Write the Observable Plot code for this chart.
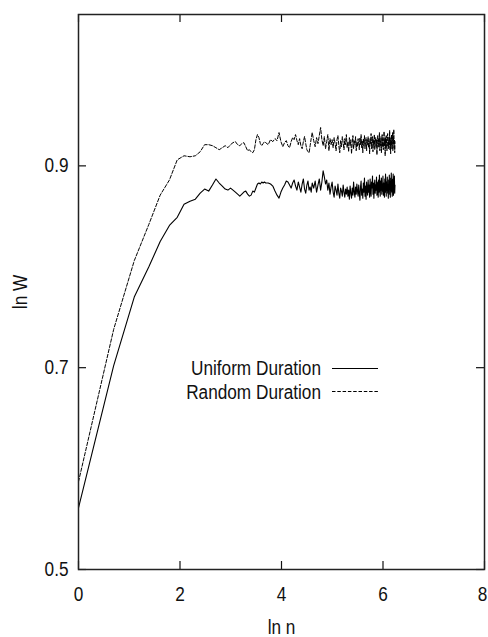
<!DOCTYPE html>
<html>
<head>
<meta charset="utf-8">
<script src="https://cdn.jsdelivr.net/npm/d3@7"></script>
<script src="https://cdn.jsdelivr.net/npm/@observablehq/plot@0.6"></script>
<style>
  html, body { margin: 0; padding: 0; background: #fff; }
  #chart { width: 488px; height: 637px; }
</style>
</head>
<body>
<div id="chart"></div>
<script>
// ---- data ----
const seriesNames = ["Uniform Duration", "Random Duration"];
const xTicks = [0, 2, 4, 6, 8];
const yTicks = [0.5, 0.7, 0.9];

// sample counts n (x is ln n)
const nValues = [
  ...d3.range(1, 41),
  ...d3.range(42, 101, 2),
  ...d3.range(103, 513, 3)
];

// ln W, Uniform Duration (solid)
const uniformW = [
  0.561, 0.702, 0.770, 0.800, 0.825, 0.841, 0.849, 0.862, 0.865, 0.867,
  0.873, 0.877, 0.875, 0.881, 0.887, 0.883, 0.880, 0.877, 0.876, 0.878,
  0.876, 0.874, 0.872, 0.870, 0.872, 0.874, 0.875, 0.872, 0.870, 0.871,
  0.875, 0.874, 0.878, 0.882, 0.883, 0.882, 0.884, 0.883, 0.884, 0.883,
  0.883, 0.882, 0.880, 0.875, 0.871, 0.868, 0.874, 0.878, 0.881, 0.885,
  0.884, 0.881, 0.878, 0.883, 0.886, 0.880, 0.876, 0.884, 0.879, 0.874,
  0.882, 0.887, 0.877, 0.873, 0.881, 0.885, 0.876, 0.879, 0.874, 0.883,
  0.878, 0.885, 0.874, 0.881, 0.887, 0.876, 0.884, 0.895,
  0.889, 0.882, 0.886, 0.876, 0.883, 0.872, 0.879, 0.884,
  0.874, 0.869, 0.880, 0.876, 0.871, 0.882, 0.873, 0.868, 0.878, 0.875, 0.870, 0.881, 0.874, 0.869, 0.877, 0.872, 0.879,
  0.870, 0.876, 0.867, 0.880, 0.873, 0.868, 0.878, 0.871, 0.884, 0.874, 0.869, 0.879, 0.872, 0.882, 0.875, 0.870, 0.881,
  0.873, 0.866, 0.879, 0.885, 0.871, 0.877, 0.868, 0.883, 0.874, 0.888, 0.870, 0.880, 0.867, 0.884, 0.876, 0.871, 0.886,
  0.874, 0.881, 0.869, 0.887, 0.875, 0.870, 0.884, 0.878, 0.890, 0.872, 0.883, 0.868, 0.879, 0.886, 0.873, 0.881, 0.876,
  0.889, 0.871, 0.884, 0.877, 0.869, 0.886, 0.874, 0.891, 0.879, 0.870, 0.885, 0.876, 0.888, 0.872, 0.882, 0.875,
  0.890, 0.871, 0.883, 0.877, 0.869, 0.887, 0.874, 0.892, 0.880, 0.870, 0.884, 0.876, 0.889, 0.873, 0.881, 0.868, 0.886,
  0.877, 0.891, 0.872, 0.884, 0.869, 0.888, 0.879, 0.893, 0.874, 0.882, 0.870, 0.887, 0.876, 0.892, 0.871, 0.885, 0.878, 0.890, 0.873, 0.881
];

// ln W, Random Duration (dashed)
const randomW = [
  0.587, 0.738, 0.806, 0.842, 0.871, 0.886, 0.906, 0.910, 0.909, 0.910,
  0.914, 0.921, 0.921, 0.920, 0.918, 0.916, 0.918, 0.920, 0.918, 0.921,
  0.923, 0.924, 0.921, 0.920, 0.922, 0.923, 0.919, 0.915, 0.916, 0.914,
  0.913, 0.916, 0.926, 0.931, 0.928, 0.922, 0.920, 0.922, 0.924, 0.923,
  0.921, 0.926, 0.924, 0.927, 0.925, 0.933, 0.924, 0.919, 0.923, 0.925,
  0.920, 0.918, 0.924, 0.928, 0.926, 0.931, 0.925, 0.921, 0.927, 0.920,
  0.917, 0.924, 0.929, 0.922, 0.916, 0.914, 0.913, 0.920, 0.927, 0.933,
  0.925, 0.919, 0.928, 0.922, 0.930, 0.938, 0.926, 0.920,
  0.929, 0.917, 0.924, 0.931, 0.915, 0.927, 0.921, 0.926,
  0.918, 0.928, 0.922, 0.915, 0.926, 0.930, 0.920, 0.913, 0.925, 0.919, 0.929, 0.923, 0.916, 0.927, 0.921, 0.931, 0.918,
  0.924, 0.914, 0.928, 0.920, 0.926, 0.912, 0.923, 0.930, 0.917, 0.925, 0.921, 0.929, 0.915, 0.924, 0.919, 0.927, 0.922,
  0.916, 0.928, 0.921, 0.931, 0.918, 0.925, 0.913, 0.927, 0.920, 0.930, 0.917, 0.924, 0.928, 0.915, 0.926, 0.921, 0.929,
  0.918, 0.925, 0.912, 0.927, 0.922, 0.932, 0.917, 0.924, 0.929, 0.914, 0.926, 0.920, 0.931, 0.916, 0.923, 0.928, 0.919,
  0.926, 0.911, 0.924, 0.930, 0.918, 0.927, 0.921, 0.933, 0.915, 0.925, 0.920, 0.929, 0.913, 0.924, 0.931, 0.919,
  0.927, 0.916, 0.923, 0.934, 0.920, 0.926, 0.910, 0.928, 0.918, 0.930, 0.922, 0.915, 0.927, 0.932, 0.919, 0.925, 0.917,
  0.929, 0.921, 0.935, 0.916, 0.926, 0.912, 0.928, 0.920, 0.931, 0.917, 0.924, 0.933, 0.915, 0.927, 0.922, 0.936, 0.918, 0.926, 0.913, 0.924
];

// ---- build table ----
const uniform = nValues.map((n, i) => ({x: Math.log(n), y: uniformW[i]}));
const random = nValues.map((n, i) => ({x: Math.log(n), y: randomW[i]}));

const FONT = "'Liberation Sans', Arial, Helvetica, sans-serif";
const W = 488, H = 637;
const mL = 78, mR = 4, mT = 14, mB = 68;
const innerW = W - mL - mR, innerH = H - mT - mB;
const tickLen = 8;

const chart = Plot.plot({
  width: W,
  height: H,
  marginLeft: mL,
  marginRight: mR,
  marginTop: mT,
  marginBottom: mB,
  style: {fontFamily: FONT, fontSize: "20px", color: "#111", background: "#fff", overflow: "visible"},
  x: {domain: [0, 8]},
  y: {domain: [0.5, 1.05]},
  marks: [
    Plot.axisX({ticks: xTicks, tickSize: 0, tickPadding: 17, tickFormat: d3.format("d"),
      label: "ln n", labelAnchor: "center", labelArrow: "none", labelOffset: 64, fontSize: 20}),
    Plot.axisY({ticks: yTicks, tickSize: 0, tickPadding: 10, tickFormat: d3.format(".1f"),
      label: "ln W", labelAnchor: "center", labelArrow: "none", labelOffset: 66, fontSize: 20}),
    // inward ticks on all four sides
    Plot.tickX(xTicks, {x: d => d, insetTop: innerH - tickLen, stroke: "#111", strokeWidth: 1.2}),
    Plot.tickX(xTicks, {x: d => d, insetBottom: innerH - tickLen, stroke: "#111", strokeWidth: 1.2}),
    Plot.tickY(yTicks, {y: d => d, insetRight: innerW - tickLen, stroke: "#111", strokeWidth: 1.2}),
    Plot.tickY(yTicks, {y: d => d, insetLeft: innerW - tickLen, stroke: "#111", strokeWidth: 1.2}),
    Plot.line(uniform, {x: "x", y: "y", stroke: "#000", strokeWidth: 1.1}),
    Plot.line(random, {x: "x", y: "y", stroke: "#000", strokeWidth: 1, strokeDasharray: "3.5,1.8"}),
    Plot.frame({stroke: "#222", strokeWidth: 1.5})
  ]
});

document.getElementById("chart").appendChild(chart);

// ---- legend (inside plot) ----
const svg = d3.select(chart.tagName.toLowerCase() === "svg" ? chart : chart.querySelector("svg"));
const leg = svg.append("g").attr("font-family", FONT).attr("font-size", 20).attr("fill", "#111");
const legendRows = [
  {label: seriesNames[0], dash: null, ty: 375, ly: 368.5},
  {label: seriesNames[1], dash: "3.5,1.8", ty: 398.5, ly: 391.5}
];
legendRows.forEach(r => {
  leg.append("text").attr("x", 321).attr("y", r.ty).attr("text-anchor", "end").text(r.label);
  const ln = leg.append("line").attr("x1", 332).attr("x2", 378).attr("y1", r.ly).attr("y2", r.ly)
    .attr("stroke", "#000").attr("stroke-width", 1);
  if (r.dash) ln.attr("stroke-dasharray", r.dash);
});

// condensed (Helvetica-Narrow-like) glyphs: squeeze each text horizontally
svg.selectAll("text").each(function() {
  const len = this.getComputedTextLength();
  if (len > 0) {
    this.setAttribute("textLength", (len * 0.86).toFixed(2));
    this.setAttribute("lengthAdjust", "spacingAndGlyphs");
  }
  // keep the last x tick label ("8") inside the picture edge
  if (this.textContent === String(xTicks[xTicks.length - 1])) {
    this.setAttribute("dx", "-2");
  }
});
</script>
</body>
</html>
